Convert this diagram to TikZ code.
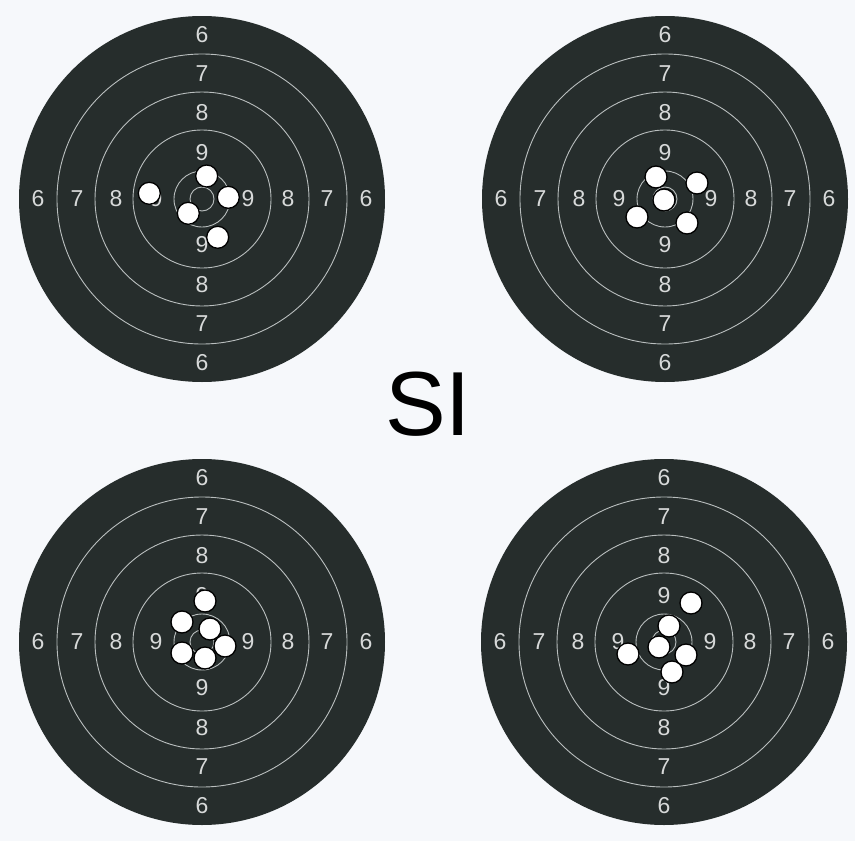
\documentclass[tikz,border=0pt]{standalone}
\usepackage{fontspec}
\setmainfont{Liberation Sans}
\usetikzlibrary{positioning}
\definecolor{paper}{RGB}{246,248,251}
\definecolor{board}{RGB}{38,45,44}
\definecolor{ringc}{RGB}{185,190,190}
\definecolor{numc}{RGB}{215,217,217}
\tikzset{
  disc/.style={circle,fill=board,inner sep=0pt,minimum size=366pt},
  ring/.style={draw=ringc,line width=0.9pt},
  num/.style={inner sep=0pt,text=numc,font=\fontsize{23}{23}\selectfont},
  hole/.style={circle,draw=black,line width=1.3pt,fill=white,inner sep=0pt,minimum size=22pt},
  big/.style={inner sep=0pt,font=\fontsize{91}{91}\selectfont},
}
% #1 name, #2/#3 centre, #4 shot holes (relative)
\newcommand{\target}[4]{%
  \begin{scope}[shift={(#2,#3)}]
    \node[disc] (#1) at (0,0) {};
    \foreach \r in {145,107,69,28,12}
      \draw[ring] (#1.center) circle[radius=\r pt];
    \foreach \n/\d in {9/46,8/86,7/125,6/164} {
      \node[num] (#1-t\n) at (0,-\d) {\n};
      \node[num] (#1-b\n) at (0,\d) {\n};
      \node[num] (#1-l\n) at (-\d,0) {\n};
      \node[num] (#1-r\n) at (\d,0) {\n};
    }
    \foreach \hx/\hy [count=\k] in {#4}
      \node[hole] (#1-h\k) at (\hx,\hy) {};
  \end{scope}}

\begin{document}
\begin{tikzpicture}[x=1pt,y=-1pt]
  \fill[paper] (0,0) rectangle (855,841);
  \useasboundingbox (0,0) rectangle (855,841);

  \target{tl}{202}{199}{4.7/-23, -52.7/-5.7, 26.3/-1.7, -13.7/14.3, 15.7/38.3}
  \target{tr}{665}{199}{-9/-22, 32/-16, -1/1, -28/18, 22/24}
  \target{bl}{202}{642}{3/-41, -20/-20, 8/-13, 23/4, -20/11, 3/16}
  \target{br}{664}{642}{27/-39, 5/-16, -5/5, -36/12, 22/13, 8/30}

  \node[big] (title) at (428,404) {SI};
\end{tikzpicture}
\end{document}
